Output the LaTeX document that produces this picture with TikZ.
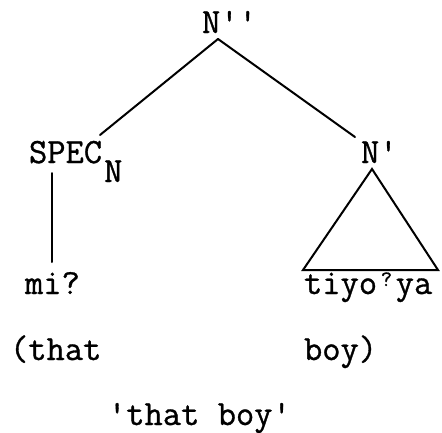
\documentclass[tikz,border=0pt]{standalone}
\usepackage{fontspec}
\newfontfamily\tw{Latin Modern Mono}[FakeBold=0.9]
\tikzset{
  lbl/.style={anchor=base west, inner sep=0pt, outer sep=0pt, font=\tw\fontsize{35.5}{35.5}\selectfont},
  edge/.style={line width=2pt, line cap=round}
}
\begin{document}
\begin{tikzpicture}[x=1pt,y=-1pt]
\useasboundingbox (0,0) rectangle (442,432);
% labels
\node[lbl] (top) at (202,33) {N'{}'};
\node[lbl] (spec) at (29,163) {SPEC\kern2pt\raisebox{-19pt}{N}};
\node[lbl] (nbar) at (361,163) {N'};
\node[lbl] (mi) at (25,294) {mi?};
\node[lbl] (tiyo) at (304,294) {tiyo\makebox[0.525em]{\raisebox{8pt}{\fontsize{22}{22}\selectfont ?}}ya};
\node[lbl] (that) at (10,360) {(that};
\node[lbl] (boy) at (304,360) {boy)};
\node[lbl] (gloss) at (108,425) {'that boy'};
% tree geometry
\coordinate (apex) at (218,39);
\coordinate (lend) at (100,135);
\coordinate (rend) at (355,137);
\coordinate (tri) at (372,169);
\coordinate (bl) at (303,270);
\coordinate (br) at (438,270);
\coordinate (vt) at (52,173);
\coordinate (vb) at (52,262);
\draw[edge] (apex) -- (lend);
\draw[edge] (apex) -- (rend);
\draw[edge, line join=miter] (tri) -- (bl) -- (br) -- cycle;
\draw[edge] (vt) -- (vb);
\end{tikzpicture}
\end{document}
